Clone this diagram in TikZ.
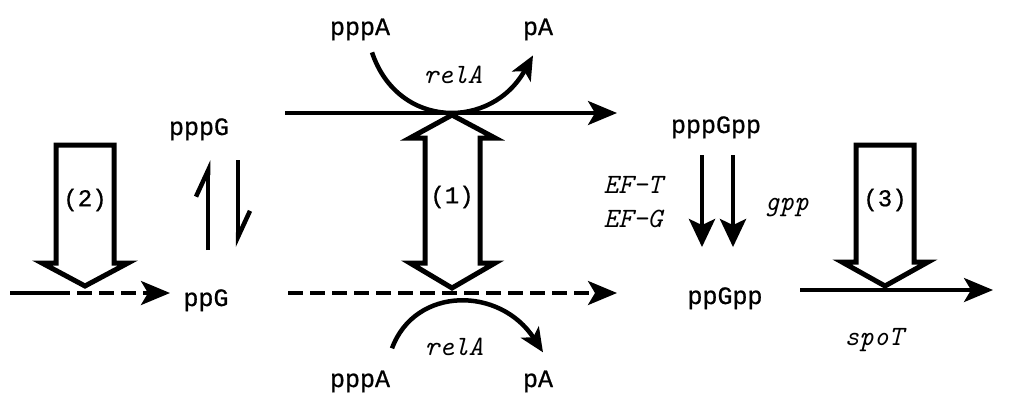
\documentclass[tikz,border=0pt]{standalone}
\usepackage{fontspec}
\newfontfamily\cpdfont{Liberation Mono}[FakeBold=0.8]
\usetikzlibrary{arrows.meta}

\begin{document}
\begin{tikzpicture}[x=1pt, y=-1pt,
    cpd/.style={anchor=base, inner sep=0pt, font=\cpdfont\fontsize{25}{30}\selectfont},
    gene/.style={anchor=base, inner sep=0pt, font=\ttfamily\itshape\fontsize{28}{32}\selectfont},
    num/.style={inner sep=0pt, font=\cpdfont\fontsize{24}{28}\selectfont},
    flow/.style={line width=3.5pt, -{Stealth[length=29pt, width=24pt, inset=7pt]}},
    arc arrow/.style={line width=4.5pt, -{Stealth[length=24pt, width=21pt, inset=6pt]}},
    harp/.style={line width=4.5pt, -{Straight Barb[harpoon, length=26pt, width=24pt]}},
    drop arrow/.style={line width=4.5pt, -{Stealth[length=28pt, width=26pt, inset=6pt]}},
    hollow/.style={draw, line width=5pt, fill=white, line join=miter},
    gaps/.style={dash pattern=on 15pt off 7pt}]
    % Frame
    \useasboundingbox (0,0) rectangle (1011,394);

    % Compounds
    \node[cpd] (pppG) at (199,135) {pppG};
    \node[cpd] (ppG) at (206,306) {ppG};
    \node[cpd] (pppAtop) at (360,35) {pppA};
    \node[cpd] (pAtop) at (538,35) {pA};
    \node[cpd] (pppAbot) at (360,387) {pppA};
    \node[cpd] (pAbot) at (538,387) {pA};
    \node[cpd] (pppGpp) at (716,133) {pppGpp};
    \node[cpd] (ppGpp) at (725,304) {ppGpp};

    % Genes and factors
    \node[gene] (relAtop) at (453,83) {relA};
    \node[gene] (relAbot) at (454,355) {relA};
    \node[gene] (eft) at (633,193) {EF-T};
    \node[gene] (efg) at (633,227) {EF-G};
    \node[gene] (gpp) at (787,210) {gpp};
    \node[gene] (spoT) at (874,345) {spoT};

    % Line ends
    \coordinate (topL) at (285,113);
    \coordinate (topR) at (617,113);
    \coordinate (dashL) at (288,293);
    \coordinate (dashR) at (617,293);
    \coordinate (leftA) at (10,293);
    \coordinate (leftB) at (55,293);
    \coordinate (leftC) at (170,293);
    \coordinate (spoTL) at (800,290);
    \coordinate (spoTR) at (993,290);

    % Hollow block arrows
    \draw[hollow] (56,145) -- (114,145) -- (114,263) -- (128,263) -- (85,286)
        -- (42,263) -- (56,263) -- cycle;
    \draw[hollow] (452,115) -- (495,138) -- (480,138) -- (480,263) -- (495,263)
        -- (452,288) -- (410,263) -- (425,263) -- (425,138) -- (410,138) -- cycle;
    \draw[hollow] (856,145) -- (914,145) -- (914,262) -- (928,262) -- (885,286)
        -- (842,262) -- (856,262) -- cycle;
    \node[num] (n2) at (85,200) {(2)};
    \node[num] (n1) at (452,197) {(1)};
    \node[num] (n3) at (885,200) {(3)};

    % Main lines
    \draw[flow] (topL) -- (topR);
    \draw[flow, gaps] (dashL) -- (dashR);
    \draw[line width=3.5pt] (leftA) -- (leftB);
    \draw[flow, gaps] (leftB) -- (leftC);
    \draw[flow] (spoTL) -- (spoTR);

    % relA curves
    \draw[arc arrow] ([xshift=12pt, yshift=-12pt]pppAtop.south) .. controls (398,130) and (492,130)
        .. ([xshift=-5pt, yshift=-15pt]pAtop.south);
    \draw[arc arrow] ([xshift=32pt, yshift=22pt]pppAbot.north) .. controls (415,286) and (500,286)
        .. ([xshift=5pt, yshift=18pt]pAbot.north);

    % pppG <-> ppG
    \draw[harp] ([xshift=2pt, yshift=39pt]ppG.north) -- ([xshift=9pt, yshift=-20pt]pppG.south);
    \draw[harp] ([xshift=39pt, yshift=-20pt]pppG.south) -- ([xshift=32pt, yshift=42pt]ppG.north);

    % pppGpp -> ppGpp
    \draw[drop arrow] ([xshift=-14pt, yshift=-17pt]pppGpp.south) -- ([xshift=-23pt, yshift=40pt]ppGpp.north);
    \draw[drop arrow] ([xshift=17pt, yshift=-17pt]pppGpp.south) -- ([xshift=8pt, yshift=40pt]ppGpp.north);
\end{tikzpicture}
\end{document}
